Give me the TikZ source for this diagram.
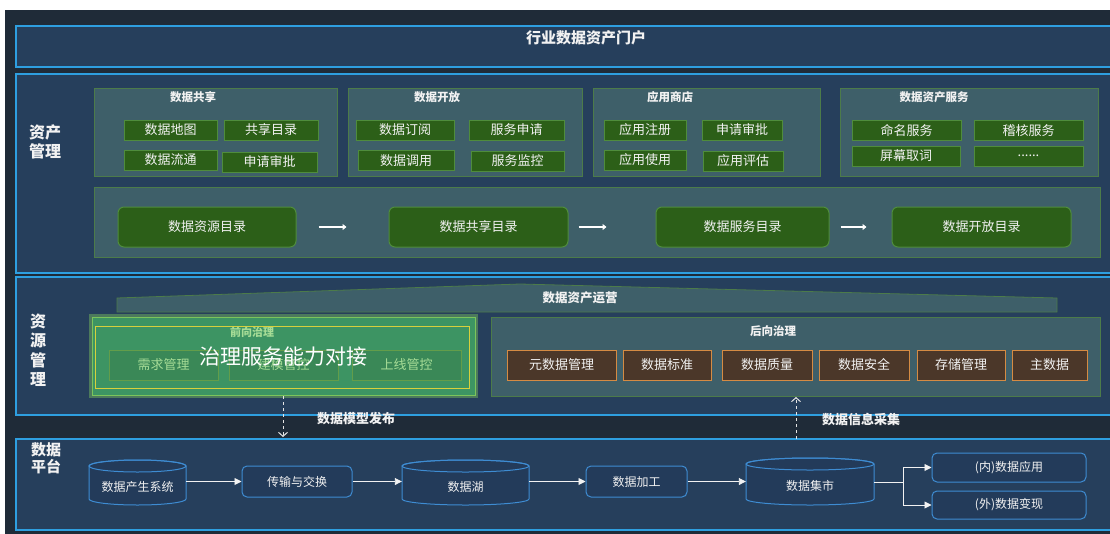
\documentclass[tikz,border=0pt]{standalone}
\usepackage{fontspec}
\setmainfont{Noto Sans CJK SC}
\usetikzlibrary{arrows.meta}
\definecolor{darkbg}{HTML}{1F2B38}
\definecolor{pfill}{HTML}{263F5C}
\definecolor{pborder}{HTML}{2E9FE0}
\definecolor{sfill}{HTML}{3E5F69}
\definecolor{sborder}{HTML}{4C7B4A}
\definecolor{gfill}{HTML}{2C5F18}
\definecolor{gborder}{HTML}{4F8C3C}
\definecolor{fwdfill}{HTML}{3D9463}
\definecolor{fwdglow}{HTML}{7CC45C}
\definecolor{fwdline}{HTML}{D8D03C}
\definecolor{fwdtext}{HTML}{A6DC96}
\definecolor{fwditem}{HTML}{3A8655}
\definecolor{bfill}{HTML}{4B3729}
\definecolor{bborder}{HTML}{D58B43}
\definecolor{plfill}{HTML}{233B5A}
\definecolor{plborder}{HTML}{3E8CD2}
\definecolor{txt}{HTML}{F2F2F2}
\newcommand\dbcyl[6]{%
  \path[cylshape] ({#2-#4/2},{#3-#5/2+6}) -- ({#2-#4/2},{#3+#5/2-6})
    arc[start angle=180,end angle=360,x radius={#4/2*1pt},y radius=6pt]
    -- ({#2+#4/2},{#3-#5/2+6})
    arc[start angle=0,end angle=180,x radius={#4/2*1pt},y radius=6pt] -- cycle;
  \draw[cylline] (#2,{#3-#5/2+6}) ellipse[x radius={#4/2*1pt},y radius=6pt];
  \node[cyltext,minimum width=#4*1pt,minimum height=#5*1pt,text depth=0pt] (#1) at (#2,{#3+4}) {#6};
}
\begin{document}
\begin{tikzpicture}[x=1pt,y=-1pt,
  panel/.style={draw=pborder,line width=1.3pt,fill=pfill},
  subpanel/.style={draw=sborder,line width=0.8pt,fill=sfill},
  subtitle/.style={text=txt,font=\fontsize{11.5}{12}\selectfont\bfseries,inner sep=0pt},
  gitem/.style={draw=gborder,fill=gfill,line width=0.8pt,text=txt,inner sep=0pt,minimum height=20pt,font=\fontsize{13}{13}\selectfont},
  catitem/.style={draw=gborder,fill=gfill,line width=1pt,rounded corners=6pt,text=txt,inner sep=0pt,minimum height=40pt,font=\fontsize{13}{13}\selectfont},
  catarrow/.style={draw=white,line width=2.4pt,-{Triangle[length=4pt,width=6pt]}},
  sidelabel/.style={text=txt,font=\fontsize{16}{19}\selectfont\bfseries,align=left,inner sep=0pt,anchor=west},
  fwditembox/.style={draw=fwdglow!80!black,fill=fwditem,fill opacity=0.8,text opacity=1,line width=0.8pt,text=fwdtext,inner sep=0pt,minimum height=30pt,minimum width=109pt,font=\fontsize{13}{13}\selectfont},
  bitem/.style={draw=bborder,fill=bfill,line width=1pt,text=txt,inner sep=0pt,minimum height=30pt,font=\fontsize{13}{13}\selectfont},
  plbox/.style={draw=plborder,fill=plfill,line width=1pt,rounded corners=5pt,text=txt,inner sep=0pt,font=\fontsize{12}{12}\selectfont},
  cylshape/.style={draw=plborder,fill=plfill,line width=1pt},
  cylline/.style={draw=plborder,line width=1pt},
  cyltext/.style={text=txt,inner sep=0pt,font=\fontsize{12}{12}\selectfont},
  flow/.style={draw=white!90!gray,line width=0.9pt,-{Triangle[length=7pt,width=7pt]}},
  dashflow/.style={draw=white!80!gray,line width=1pt,dash pattern=on 3pt off 3pt,-{Straight Barb[length=4pt,width=9pt]}},
  flowlabel/.style={text=txt,font=\fontsize{13}{13}\selectfont\bfseries,inner sep=0pt}]
\useasboundingbox (0,0) rectangle (1110,533);
\fill[white] (0,0) rectangle (1110,533);
\fill[darkbg] (5,10) rectangle (1116,540);

% ---------- top portal ----------
\path[panel] (16,26) rectangle (1116,67);
\node[text=txt,font=\fontsize{15}{15}\selectfont\bfseries,inner sep=0pt] (portal) at (586,38) {行业数据资产门户};

% ---------- asset management ----------
\path[panel] (16,74) rectangle (1116,273);
\node[sidelabel] (assetlbl) at (29,142) {资产\\管理};

\path[subpanel] (94,88) rectangle (337,176);
\path[subpanel] (348,88) rectangle (582,176);
\path[subpanel] (593,88) rectangle (820,176);
\path[subpanel] (840,88) rectangle (1098,176);
\node[subtitle] (t1) at (193,97) {数据共享};
\node[subtitle] (t2) at (437,97) {数据开放};
\node[subtitle] (t3) at (670,97) {应用商店};
\node[subtitle] (t4) at (934,97) {数据资产服务};

\node[gitem,minimum width=93pt] (a1) at (170.5,130) {数据地图};
\node[gitem,minimum width=94pt] (a2) at (271,130) {共享目录};
\node[gitem,minimum width=93pt] (a3) at (170.5,160) {数据流通};
\node[gitem,minimum width=95pt] (a4) at (269.5,162) {申请审批};
\node[gitem,minimum width=98pt] (b1) at (405,130) {数据订阅};
\node[gitem,minimum width=95pt] (b2) at (516.5,130) {服务申请};
\node[gitem,minimum width=96pt] (b3) at (406,160.5) {数据调用};
\node[gitem,minimum width=93pt] (b4) at (517.5,161) {服务监控};
\node[gitem,minimum width=82pt] (c1) at (645,130) {应用注册};
\node[gitem,minimum width=80pt] (c2) at (742,130) {申请审批};
\node[gitem,minimum width=82pt] (c3) at (645,160) {应用使用};
\node[gitem,minimum width=80pt] (c4) at (743,161) {应用评估};
\node[gitem,minimum width=109pt] (d1) at (906.5,130.5) {命名服务};
\node[gitem,minimum width=109pt] (d2) at (1028.5,130.5) {稽核服务};
\node[gitem,minimum width=108pt] (d3) at (906,156) {屏幕取词};
\node[gitem,minimum width=109pt] (d4) at (1028.5,156) {......};

\path[subpanel] (94,187) rectangle (1100,257);
\node[catitem,minimum width=178pt] (cat1) at (207,227) {数据资源目录};
\node[catitem,minimum width=179pt] (cat2) at (478.5,227) {数据共享目录};
\node[catitem,minimum width=173pt] (cat3) at (742.5,227) {数据服务目录};
\node[catitem,minimum width=179pt] (cat4) at (981.5,227) {数据开放目录};
\draw[catarrow,shorten <=22pt,shorten >=42pt] (cat1.east) -- (cat2.west);
\draw[catarrow,shorten <=10pt,shorten >=49pt] (cat2.east) -- (cat3.west);
\draw[catarrow,shorten <=11pt,shorten >=25pt] (cat3.east) -- (cat4.west);

% ---------- resource management ----------
\path[panel] (16,277) rectangle (1116,415);
\node[sidelabel,align=center,font=\fontsize{16}{19.5}\selectfont\bfseries] (reslbl) at (30,350) {资\\源\\管\\理};

\path[subpanel] (117,312) -- (117,298) -- (520,284) -- (1057,298) -- (1057,312) -- cycle;
\node[subtitle,font=\fontsize{12.5}{13}\selectfont\bfseries] (ops) at (580,298) {数据资产运营};

% forward governance
\fill[fwdglow,opacity=0.45] (89,314) rectangle (478,398);
\path[fill=fwdfill,draw=fwdglow,line width=1pt] (92,317) rectangle (475,395);
\draw[fwdline,line width=1pt] (95,326) rectangle (469,388);
\node[text=fwdtext,font=\fontsize{11}{11}\selectfont\bfseries,inner sep=0pt] (fwdtitle) at (252,332) {前向治理};
\node[fwditembox] (f1) at (163.5,365) {需求管理};
\node[fwditembox] (f2) at (283.5,365) {建模管控};
\node[fwditembox] (f3) at (406.5,365) {上线管控};
\node[text=white,font=\fontsize{21}{21}\selectfont,inner sep=0pt] (overlay) at (283,357) {治理服务能力对接};

% backward governance
\path[subpanel] (491,317) rectangle (1100,396);
\node[subtitle] (bwdtitle) at (773,331) {后向治理};
\node[bitem,minimum width=109pt] (g1) at (561.5,365) {元数据管理};
\node[bitem,minimum width=88pt] (g2) at (667,365) {数据标准};
\node[bitem,minimum width=90pt] (g3) at (767,365) {数据质量};
\node[bitem,minimum width=90pt] (g4) at (864,365) {数据安全};
\node[bitem,minimum width=88pt] (g5) at (961,365) {存储管理};
\node[bitem,minimum width=75pt] (g6) at (1049.5,365) {主数据};

% ---------- data platform ----------
\path[panel] (16,439) rectangle (1116,530);
\node[sidelabel,font=\fontsize{15}{17}\selectfont\bfseries] (platlbl) at (31,458) {数据\\平台};

\dbcyl{src}{137.5}{482.5}{97}{45}{数据产生系统}
\node[plbox,minimum width=110pt,minimum height=31pt] (xfer) at (297,481.5) {传输与交换};
\dbcyl{lake}{465.5}{482.5}{127}{45}{数据湖}
\node[plbox,minimum width=101pt,minimum height=31pt] (proc) at (636.5,481.5) {数据加工};
\dbcyl{mart}{810}{481.5}{128}{47}{数据集市}
\node[plbox,minimum width=154pt,minimum height=29pt] (inapp) at (1009,467.5) {(内)数据应用};
\node[plbox,minimum width=154pt,minimum height=28pt] (outapp) at (1009,505) {(外)数据变现};
\coordinate (fork) at (903,482.5);

\draw[flow] (src.east |- xfer.west) -- (xfer.west);
\draw[flow] (xfer.east) -- (lake.west |- xfer.east);
\draw[flow] (lake.east |- proc.west) -- (proc.west);
\draw[flow] (proc.east) -- (mart.west |- proc.east);
\draw[draw=white!90!gray,line width=0.9pt] (mart.east |- fork) -- (fork);
\draw[flow] (fork) |- (inapp.west);
\draw[flow] (fork) |- (outapp.west);

% ---------- cross-layer flows ----------
\coordinate (pubtop) at (283,396);
\coordinate (pubbot) at (283,437);
\draw[dashflow] (pubtop) -- (pubbot);
\node[flowlabel] (publbl) at (356,419) {数据模型发布};
\coordinate (colbot) at (796,439);
\coordinate (coltop) at (796,397);
\draw[dashflow] (colbot) -- (coltop);
\node[flowlabel] (collbl) at (861,420) {数据信息采集};
\end{tikzpicture}
\end{document}
